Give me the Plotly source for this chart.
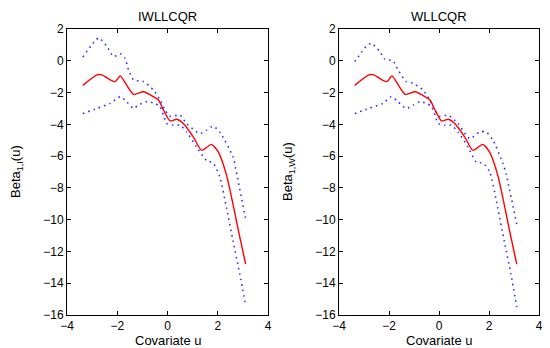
import plotly.graph_objects as go

# ---- data ----
# Left panel: IWLLCQR
iw_est_x = [-3.37, -2.81, -2.61, -2.28, -2.08, -1.88, -1.6, -1.35, -0.96, -0.56, -0.36, -0.16, 0.1, 0.37, 0.63, 1.03, 1.36, 1.75, 2.02, 2.35, 2.61, 2.81, 3.11]
iw_est_y = [-1.55, -0.89, -0.89, -1.2, -1.31, -0.95, -1.6, -2.11, -1.95, -2.26, -2.47, -3.1, -3.78, -3.68, -3.95, -4.8, -5.64, -5.26, -5.74, -7.2, -9.05, -10.6, -12.8]

iw_up_x = [-3.37, -2.74, -2.41, -2.15, -1.88, -1.69, -1.55, -1.35, -0.96, -0.56, -0.3, -0.1, 0.1, 0.5, 0.76, 1.29, 1.55, 1.82, 2.08, 2.61, 2.74, 3.11]
iw_up_y = [0.23, 1.43, 0.9, 0.27, 0.44, 0.16, -0.57, -1.2, -1.31, -1.84, -2.47, -3.1, -3.49, -3.42, -3.95, -4.58, -4.37, -4.12, -4.48, -6.06, -7.0, -9.95]

iw_lo_x = [-3.37, -2.81, -2.28, -1.88, -1.69, -1.35, -1.16, -0.83, -0.5, -0.3, -0.16, -0.03, 0.23, 0.5, 0.76, 1.16, 1.55, 1.82, 2.08, 2.35, 2.61, 2.88, 3.11]
iw_lo_y = [-3.32, -3.0, -2.68, -2.26, -2.47, -3.0, -2.79, -2.58, -2.68, -2.89, -3.42, -3.95, -4.05, -4.05, -4.48, -5.43, -6.27, -6.44, -7.3, -9.26, -11.35, -13.44, -15.4]

# Right panel: WLLCQR
w_est_x = [-3.37, -2.81, -2.61, -2.28, -2.08, -1.88, -1.6, -1.35, -0.96, -0.56, -0.36, -0.16, 0.1, 0.37, 0.63, 1.03, 1.36, 1.75, 2.02, 2.35, 2.61, 2.81, 3.11]
w_est_y = [-1.55, -0.89, -0.89, -1.2, -1.31, -0.95, -1.6, -2.11, -1.95, -2.26, -2.47, -3.1, -3.78, -3.68, -3.95, -4.8, -5.64, -5.26, -5.74, -7.2, -9.05, -10.6, -12.8]

w_up_x = [-3.37, -2.91, -2.71, -2.37, -2.17, -1.84, -1.64, -1.31, -1.04, -0.64, -0.37, -0.17, 0.03, 0.36, 0.76, 1.23, 1.63, 1.89, 2.16, 2.56, 2.69, 3.11]
w_up_y = [-0.05, 0.9, 1.1, 0.59, 0.1, 0.0, -0.57, -1.31, -1.42, -1.84, -2.47, -3.1, -3.49, -3.42, -3.95, -4.9, -4.48, -4.48, -5.0, -6.48, -7.16, -10.3]

w_lo_x = [-3.37, -2.81, -2.24, -1.91, -1.64, -1.31, -1.04, -0.77, -0.5, -0.3, -0.16, -0.03, 0.23, 0.5, 0.76, 1.16, 1.49, 1.76, 2.03, 2.35, 2.61, 2.88, 3.11]
w_lo_y = [-3.32, -3.0, -2.68, -2.26, -2.58, -3.0, -2.79, -2.58, -2.68, -2.89, -3.42, -3.95, -4.05, -4.05, -4.48, -5.43, -6.38, -6.44, -7.0, -9.26, -11.35, -13.44, -15.5]

titles = ["IWLLCQR", "WLLCQR"]
ytitles = ["Beta<sub>1,I</sub>(u)", "Beta<sub>1,W</sub>(u)"]
xtitle = "Covariate u"
xticks = [-4, -2, 0, 2, 4]
yticks = [-16, -14, -12, -10, -8, -6, -4, -2, 0, 2]

FONT = "Liberation Sans, Arial, sans-serif"
OFF = 8                      # default page margin of the html body
W, H = 550 - OFF, 348 - OFF  # figure size so that it fits the window


def fx(px):
    return (px - OFF) / W


def fy(py):
    return 1 - (py - OFF) / H


fig = go.Figure()

panels = [
    (iw_est_x, iw_est_y, iw_up_x, iw_up_y, iw_lo_x, iw_lo_y, "x", "y"),
    (w_est_x, w_est_y, w_up_x, w_up_y, w_lo_x, w_lo_y, "x2", "y2"),
]
dot = dict(color="#3333ff", width=1.6, dash="1.6px,4px", shape="spline", smoothing=0.6)
for ex, ey, ux, uy, lx, ly, xa, ya in panels:
    fig.add_trace(go.Scatter(x=ux, y=uy, mode="lines", line=dot, xaxis=xa, yaxis=ya, showlegend=False))
    fig.add_trace(go.Scatter(x=lx, y=ly, mode="lines", line=dot, xaxis=xa, yaxis=ya, showlegend=False))
    fig.add_trace(go.Scatter(x=ex, y=ey, mode="lines",
                             line=dict(color="red", width=1.4, shape="spline", smoothing=0.6),
                             xaxis=xa, yaxis=ya, showlegend=False))

ax_common = dict(showgrid=False, zeroline=False, showline=True, linecolor="black", linewidth=1,
                 mirror="ticks", ticks="inside", ticklen=4, tickcolor="black", automargin=False,
                 tickfont=dict(family=FONT, size=12, color="black"))

left_px = [(67, 268), (339, 539)]
doms = [(fx(a), fx(b)) for a, b in left_px]
ydom = (fy(315), fy(29))

fig.update_layout(
    width=W, height=H, margin=dict(l=0, r=0, t=0, b=0),
    paper_bgcolor="white", plot_bgcolor="white",
    font=dict(family=FONT, size=13, color="black"),
    xaxis=dict(domain=doms[0], range=[-4, 4], tickvals=xticks, anchor="y", **ax_common),
    yaxis=dict(domain=ydom, range=[-16, 2], tickvals=yticks, anchor="x", **ax_common),
    xaxis2=dict(domain=doms[1], range=[-4, 4], tickvals=xticks, anchor="y2", **ax_common),
    yaxis2=dict(domain=ydom, range=[-16, 2], tickvals=yticks, anchor="x2", **ax_common),
)

ylab_px = [16, 288]
for i, t in enumerate(titles):
    xc = (doms[i][0] + doms[i][1]) / 2
    fig.add_annotation(text=t, x=xc, y=fy(16), xref="paper", yref="paper",
                       showarrow=False, font=dict(family=FONT, size=13, color="black"),
                       xanchor="center", yanchor="middle")
    fig.add_annotation(text=xtitle, x=xc, y=fy(331), xref="paper", yref="paper",
                       showarrow=False, font=dict(family=FONT, size=13, color="black"),
                       xanchor="center", yanchor="top", height=15, valign="top")
    fig.add_annotation(text=ytitles[i], x=fx(ylab_px[i]), y=(ydom[0] + ydom[1]) / 2,
                       xref="paper", yref="paper", textangle=-90,
                       showarrow=False, font=dict(family=FONT, size=13, color="black"),
                       xanchor="center", yanchor="middle")

fig.write_html("out.html")
